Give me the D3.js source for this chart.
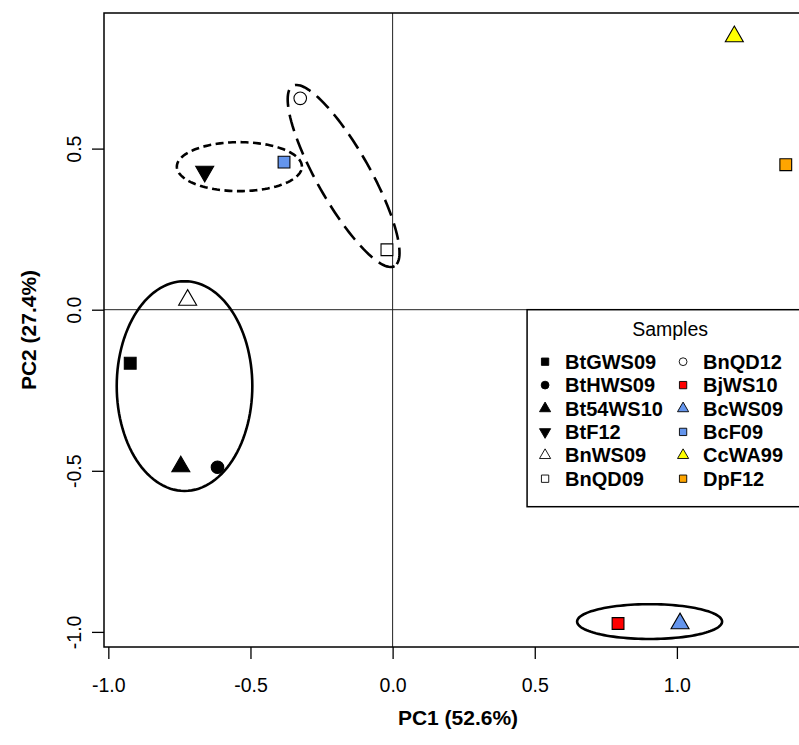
<!DOCTYPE html>
<html>
<head>
<meta charset="utf-8">
<script src="https://cdn.jsdelivr.net/npm/d3@7"></script>
<style>
  body { margin: 0; background: #fff; }
  text { font-family: Arial, "Liberation Sans", sans-serif; fill: #000; }
</style>
</head>
<body>
<svg id="chart" width="799" height="745"></svg>
<script>

//// data, in legend order (column 1 then column 2)
const samples = ["BtGWS09", "BtHWS09", "Bt54WS10", "BtF12", "BnWS09", "BnQD09",
                 "BnQD12", "BjWS10", "BcWS09", "BcF09", "CcWA99", "DpF12"]
const pc1 = [-0.923, -0.616, -0.745, -0.661, -0.721, -0.020,
             -0.325,  0.793,  1.011, -0.382,  1.202,  1.383]
const pc2 = [-0.166, -0.489, -0.487,  0.429,  0.030,  0.186,
              0.656, -0.974, -0.974,  0.458,  0.848,  0.450]
const shapes = ["square", "circle", "up", "down", "up", "square",
                "circle", "square", "up", "square", "up", "square"]
const fills = ["#000000", "#000000", "#000000", "#000000", "#ffffff", "#ffffff",
               "#ffffff", "#ff0000", "#6495ed", "#6495ed", "#ffff00", "#ffa500"]

// group ellipses: centre + two semi-axis vectors, all in PC units
const ell_cx = [-0.732,  0.904, -0.539, -0.1724]
const ell_cy = [-0.237, -0.968,  0.444,  0.415]
const ell_ux = [ 0.2385, 0.255, 0.220,  0.1792]
const ell_uy = [ 0,      0,     0,     -0.2796]
const ell_vx = [ 0,      0,     0,     -0.0811]
const ell_vy = [ 0.3255, 0.054, 0.076, -0.0405]
const ell_lty = ["solid", "solid", "dashed", "longdash"]

const xTicks = [-1, -0.5, 0, 0.5, 1]
const yTicks = [-1, -0.5, 0, 0.5]

const xTitle = "PC1 (52.6%)"
const yTitle = "PC2 (27.4%)"
const legendTitle = "Samples"


//// layout
const plot_left = 104, plot_right = 812, plot_top = 13, plot_bottom = 647
const fs = 19.5   // base font size

const svg = d3.select("#chart")

// R style axis limits: data range stretched 4% each way
const xExt = d3.extent(pc1), yExt = d3.extent(pc2)
const xPad = (xExt[1] - xExt[0]) * 0.04
const yPad = (yExt[1] - yExt[0]) * 0.04

const x = d3.scaleLinear()
  .domain([xExt[0] - xPad, xExt[1] + xPad])
  .range([plot_left, plot_right])

const y = d3.scaleLinear()
  .domain([yExt[0] - yPad, yExt[1] + yPad])
  .range([plot_bottom, plot_top])


//// zero lines
svg.append("line")
  .attr("x1", x(0)).attr("x2", x(0))
  .attr("y1", plot_top).attr("y2", plot_bottom)
  .attr("stroke", "#222").attr("stroke-width", 1)

svg.append("line")
  .attr("x1", plot_left).attr("x2", plot_right)
  .attr("y1", y(0)).attr("y2", y(0))
  .attr("stroke", "#222").attr("stroke-width", 1)


//// ellipses
const dashes = {solid: null, dashed: "8,4.5", longdash: "17,8"}
const steps = d3.range(0, 120).map(i => i / 120 * 2 * Math.PI)

const ellLine = d3.line()
  .x(d => x(d[0]))
  .y(d => y(d[1]))
  .curve(d3.curveLinearClosed)

ell_cx.forEach(function(cx, k) {
  const pts = steps.map(t => [
    cx + ell_ux[k] * Math.cos(t) + ell_vx[k] * Math.sin(t),
    ell_cy[k] + ell_uy[k] * Math.cos(t) + ell_vy[k] * Math.sin(t)
  ])
  svg.append("path")
    .attr("d", ellLine(pts))
    .attr("fill", "none")
    .attr("stroke", "#000")
    .attr("stroke-width", 2.6)
    .attr("stroke-dasharray", dashes[ell_lty[k]])
})


//// symbols (R pch style shapes), s = scale factor
function symbolPath(shape, s) {
  if (shape == "square") {
    const h = 5.9 * s
    return "M" + (-h) + "," + (-h) + "H" + h + "V" + h + "H" + (-h) + "Z"
  }
  if (shape == "circle") {
    const r = 6.3 * s
    return "M" + (-r) + ",0A" + r + "," + r + " 0 1,0 " + r + ",0A" + r + "," + r + " 0 1,0 " + (-r) + ",0Z"
  }
  const r = 10.4 * s, xc = 9 * s, yc = 5.2 * s   // triangle, centred on centroid
  if (shape == "up") return "M0," + (-r) + "L" + xc + "," + yc + "L" + (-xc) + "," + yc + "Z"
  return "M0," + r + "L" + xc + "," + (-yc) + "L" + (-xc) + "," + (-yc) + "Z"
}

svg.selectAll("path.pt")
  .data(samples)
  .enter()
  .append("path")
    .attr("class", "pt")
    .attr("d", (d, i) => symbolPath(shapes[i], 1))
    .attr("transform", (d, i) => "translate(" + x(pc1[i]) + "," + y(pc2[i]) + ")")
    .attr("fill", (d, i) => fills[i])
    .attr("stroke", "#000")
    .attr("stroke-width", 1.1)


//// axes
const fmt = d => d.toFixed(1)

const xAxis = svg.append("g")
  .attr("transform", "translate(0," + plot_bottom + ")")
  .call(d3.axisBottom(x).tickValues(xTicks).tickFormat(fmt).tickSize(12))
xAxis.select(".domain").remove()
xAxis.selectAll("line").attr("stroke-width", 1.3)
xAxis.selectAll("text")
  .attr("y", 45).attr("dy", 0)
  .style("font-size", fs + "px")
  .style("font-family", "Arial, 'Liberation Sans', sans-serif")

const yAxis = svg.append("g")
  .attr("transform", "translate(" + plot_left + ",0)")
  .call(d3.axisLeft(y).tickValues(yTicks).tickFormat(fmt).tickSize(12))
yAxis.select(".domain").remove()
yAxis.selectAll("line").attr("stroke-width", 1.3)
yAxis.selectAll("text")
  .attr("transform", "rotate(-90)")
  .attr("x", 0).attr("y", -23).attr("dy", 0)
  .attr("text-anchor", "middle")
  .style("font-size", fs + "px")
  .style("font-family", "Arial, 'Liberation Sans', sans-serif")

// box
svg.append("rect")
  .attr("x", plot_left).attr("y", plot_top)
  .attr("width", plot_right - plot_left).attr("height", plot_bottom - plot_top)
  .attr("fill", "none").attr("stroke", "#000").attr("stroke-width", 1.5)

// titles
svg.append("text")
  .attr("x", (plot_left + plot_right) / 2).attr("y", 725)
  .attr("text-anchor", "middle")
  .style("font-size", "21px").style("font-weight", "bold")
  .text(xTitle)

svg.append("text")
  .attr("transform", "translate(36," + ((plot_top + plot_bottom) / 2) + ") rotate(-90)")
  .attr("text-anchor", "middle")
  .style("font-size", "21px").style("font-weight", "bold")
  .text(yTitle)


//// legend
const leg_x = x(0.473), leg_y = y(0), leg_w = 286, leg_h = 197
const row_h = 23.4, col_w = 138

const legend = svg.append("g")
  .attr("transform", "translate(" + leg_x + "," + leg_y + ")")

legend.append("rect")
  .attr("width", leg_w).attr("height", leg_h)
  .attr("fill", "#fff").attr("stroke", "#000").attr("stroke-width", 1.5)

legend.append("text")
  .attr("x", leg_w / 2).attr("y", 26)
  .attr("text-anchor", "middle")
  .style("font-size", fs + "px")
  .text(legendTitle)

const items = legend.selectAll("g.item")
  .data(samples)
  .enter()
  .append("g")
    .attr("class", "item")
    .attr("transform", (d, i) => "translate(" + (18 + Math.floor(i / 6) * col_w) + "," + (52 + (i % 6) * row_h) + ")")

items.append("path")
  .attr("d", (d, i) => symbolPath(shapes[i], 0.62))
  .attr("fill", (d, i) => fills[i])
  .attr("stroke", "#000")
  .attr("stroke-width", 0.9)

items.append("text")
  .attr("x", 20).attr("y", 7)
  .style("font-size", "20px").style("font-weight", "bold")
  .text(d => d)

</script>
</body>
</html>
